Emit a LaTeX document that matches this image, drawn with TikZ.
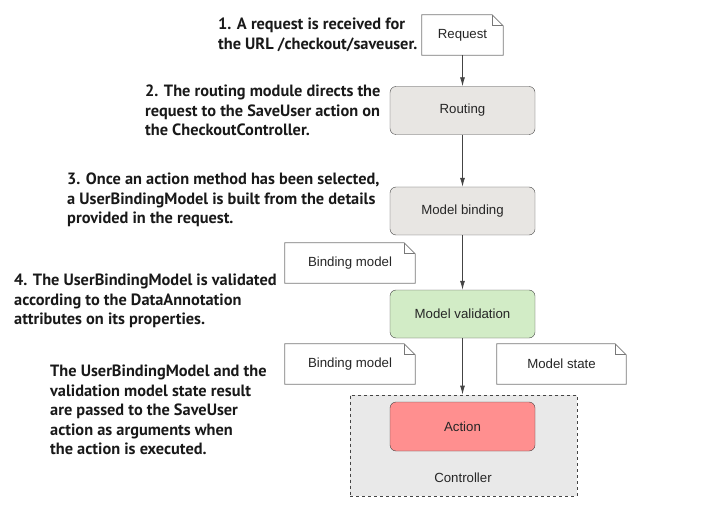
\documentclass[tikz,border=0pt]{standalone}
\usepackage{fontspec}
\setmainfont{Liberation Sans}
\newfontfamily\notefont{PT Sans}
\usetikzlibrary{arrows.meta}
\definecolor{boxgray}{RGB}{232, 230, 227}
\definecolor{boxgreen}{RGB}{210, 236, 198}
\definecolor{boxred}{RGB}{255, 143, 143}
\definecolor{ctrlgray}{RGB}{233, 233, 233}
\definecolor{linegray}{RGB}{68, 68, 68}
\definecolor{docgray}{RGB}{120, 120, 120}
\definecolor{notetext}{RGB}{25, 25, 25}
\tikzset{
  stage/.style={draw=linegray,rounded corners=6bp,minimum width=145bp,minimum height=48bp,font=\fontsize{13.3}{15}\selectfont,text=black!85},
  doc/.style={minimum width=130bp,minimum height=40bp,font=\fontsize{13.3}{15}\selectfont,text=black!85},
  note/.style={anchor=north west,inner sep=0pt,align=left,text=notetext,font=\notefont\bfseries\fontsize{16.4}{19.5}\selectfont},
  flow/.style={-{Latex[length=9bp,width=5bp]},linegray,line width=.8bp}
}
% page with folded corner drawn round a node
\newcommand{\docoutline}[1]{%
  \draw[docgray,line width=.8bp,fill=white] (#1.south west) -- (#1.north west) -- ([xshift=-11bp]#1.north east) -- ([yshift=-11bp]#1.north east) -- (#1.south east) -- cycle;
  \draw[docgray,line width=.8bp] ([xshift=-11bp]#1.north east) -- ([xshift=-11bp,yshift=-11bp]#1.north east) -- ([yshift=-11bp]#1.north east);}

\begin{document}
\begin{tikzpicture}[x=1bp,y=-1bp]
  \useasboundingbox (0,0) rectangle (707,515);
  %\draw[step=10,gray,very thin] (0,0) grid (707,515);
  \node[draw=linegray,dashed,fill=ctrlgray,line width=.8bp,minimum width=227bp,minimum height=101bp] (ctrl) at (463.5,445.5) {};
  \node[font=\fontsize{13.3}{15}\selectfont,text=black!85] (ctrllabel) at (463,478) {Controller};
  \node[doc,minimum width=81bp] (req) at (462.5,35) {};
  \docoutline{req}
  \node[doc] at (req) {Request};
  \node[stage,fill=boxgray] (route) at (462.5,110.5) {Routing};
  \node[stage,fill=boxgray] (bind) at (462.5,211) {Model binding};
  \node[stage,fill=boxgreen] (valid) at (462.5,314) {Model validation};
  \node[stage,fill=boxred,minimum height=49bp] (action) at (462.5,426.5) {Action};
  \node[doc] (bm1) at (350,263) {};
  \docoutline{bm1}
  \node[doc] at (bm1) {Binding model};
  \node[doc] (bm2) at (350,364) {};
  \docoutline{bm2}
  \node[doc] at (bm2) {Binding model};
  \node[doc,minimum width=129bp] (state) at (561.5,364) {};
  \docoutline{state}
  \node[doc] at (state) {Model state};
  \draw[flow] (req) -- (route);
  \draw[flow] (route) -- (bind);
  \draw[flow] (bind) -- (valid);
  \draw[flow] (valid) -- (valid |- ctrl.north);
  \node[note] (n1) at (218,18) {1. A request is received for\\the URL /checkout/saveuser.};
  \node[note] (n2) at (145,85) {2. The routing module directs the\\request to the SaveUser action on\\the CheckoutController.};
  \node[note] (n3) at (67,173) {3. Once an action method has been selected,\\a UserBindingModel is built from the details\\provided in the request.};
  \node[note] (n4) at (14,274) {4. The UserBindingModel is validated\\according to the DataAnnotation\\attributes on its properties.};
  \node[note] (n5) at (50,365) {The UserBindingModel and the\\validation model state result\\are passed to the SaveUser\\action as arguments when\\the action is executed.};
\end{tikzpicture}
\end{document}
